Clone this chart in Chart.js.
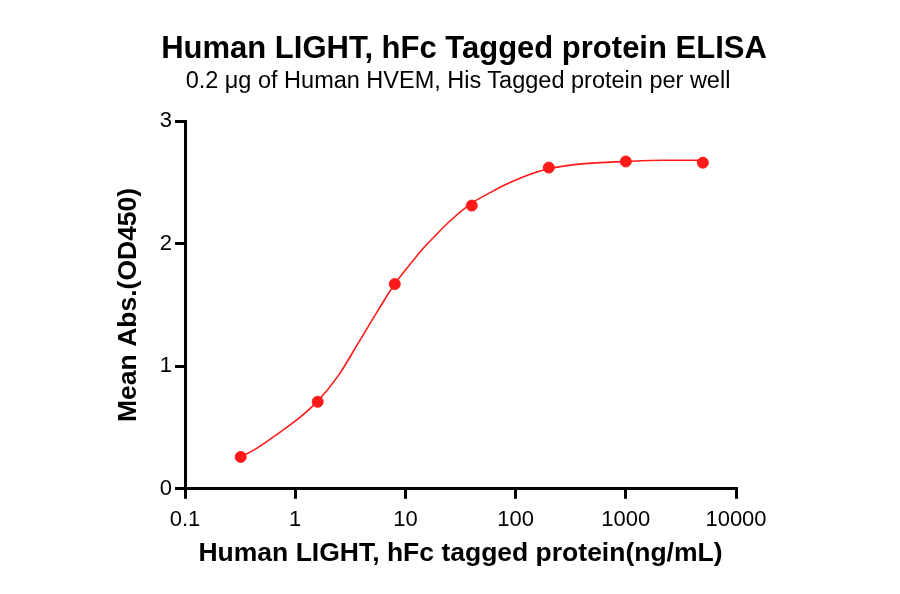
<!DOCTYPE html>
<html lang="en">
<head>
  <meta charset="UTF-8">
  <title>Human LIGHT, hFc Tagged protein ELISA</title>
  <script src="https://cdn.jsdelivr.net/npm/chart.js"></script>
  <style>
    html, body { margin: 0; padding: 0; background: #fff; }
    #wrap { position: relative; width: 900px; height: 594px; font-family: 'Liberation Sans', Arial, sans-serif; color: #000; }
    #wrap h1, #wrap h2 { position: absolute; left: 0; margin: 0; text-align: center; white-space: nowrap; }
    #wrap h1 { top: 29px; width: 928px; font-size: 31px; line-height: 38px; font-weight: bold; }
    #wrap h2 { top: 65px; width: 916px; font-size: 23.5px; line-height: 30px; font-weight: normal; }
    canvas { position: absolute; left: 0; top: 0; }
  </style>
</head>
<body>
<div id="wrap">
  <canvas id="elisaChart" width="900" height="594"></canvas>
  <h1>Human LIGHT, hFc Tagged protein ELISA</h1>
  <h2>0.2 &mu;g of Human HVEM, His Tagged protein per well</h2>
</div>

<script>
  // measured points (ng/mL vs OD450)
  const concentrations = [0.32, 1.6, 8, 40, 200, 1000, 5000];
  const meanAbs = [0.26, 0.71, 1.67, 2.31, 2.62, 2.67, 2.66];

  // fitted curve
  const curveX = [0.32, 0.45, 0.72, 1.1, 1.6, 2.47, 3.74, 5.68, 8, 11, 14.8, 18, 24.4, 40, 60, 85, 130, 200, 400, 1000, 2190, 5000];
  const curveY = [0.26, 0.332, 0.458, 0.582, 0.715, 0.925, 1.19, 1.46, 1.67, 1.83, 1.97, 2.05, 2.17, 2.33, 2.42, 2.49, 2.56, 2.61, 2.65, 2.67, 2.68, 2.68];

  const xTicks = [0.1, 1, 10, 100, 1000, 10000];
  const yTicks = [0, 1, 2, 3];

  const FONT = "'Liberation Sans', Arial, sans-serif";
  const red = '#ff1a1a';

  const ctx = document.getElementById('elisaChart').getContext('2d');
  const chart = new Chart(ctx, {
    type: 'scatter',
    data: {
      datasets: [
        {
          label: 'Fit',
          data: curveX.map((x, i) => ({x: x, y: curveY[i]})),
          showLine: true,
          borderColor: red,
          borderWidth: 1.6,
          pointRadius: 0,
          cubicInterpolationMode: 'monotone',
          fill: false
        },
        {
          label: 'Mean Abs.',
          data: concentrations.map((x, i) => ({x: x, y: meanAbs[i]})),
          backgroundColor: red,
          borderColor: red,
          pointRadius: 5.5,
          showLine: false
        }
      ]
    },
    options: {
      responsive: false,
      animation: false,
      layout: { padding: { left: 113, right: 164, top: 121, bottom: 24 } },
      plugins: {
        legend: { display: false },
        tooltip: { enabled: false }
      },
      scales: {
        x: {
          type: 'logarithmic',
          min: 0.1,
          max: 10000,
          afterBuildTicks: axis => { axis.ticks = xTicks.map(v => ({value: v})); },
          ticks: {
            color: '#000',
            font: { family: FONT, size: 22 },
            padding: 8,
            autoSkip: false,
            maxRotation: 0,
            callback: v => String(v)
          },
          grid: { drawOnChartArea: false, drawTicks: true, tickLength: 10, color: '#000', lineWidth: 3 },
          border: { color: '#000', width: 3 },
          title: {
            display: true,
            text: 'Human LIGHT, hFc tagged protein(ng/mL)',
            color: '#000',
            font: { family: FONT, size: 26.5, weight: 'bold' },
            padding: { top: -3, bottom: 0 }
          }
        },
        y: {
          min: 0,
          max: 3,
          afterBuildTicks: axis => { axis.ticks = yTicks.map(v => ({value: v})); },
          ticks: {
            color: '#000',
            font: { family: FONT, size: 22 },
            padding: 3
          },
          grid: { drawOnChartArea: false, drawTicks: true, tickLength: 10, color: '#000', lineWidth: 3 },
          border: { color: '#000', width: 3 },
          title: {
            display: true,
            text: 'Mean Abs.(OD450)',
            color: '#000',
            font: { family: FONT, size: 26.5, weight: 'bold' },
            padding: { top: 0, bottom: 12 }
          }
        }
      }
    }
  });
</script>
</body>
</html>
